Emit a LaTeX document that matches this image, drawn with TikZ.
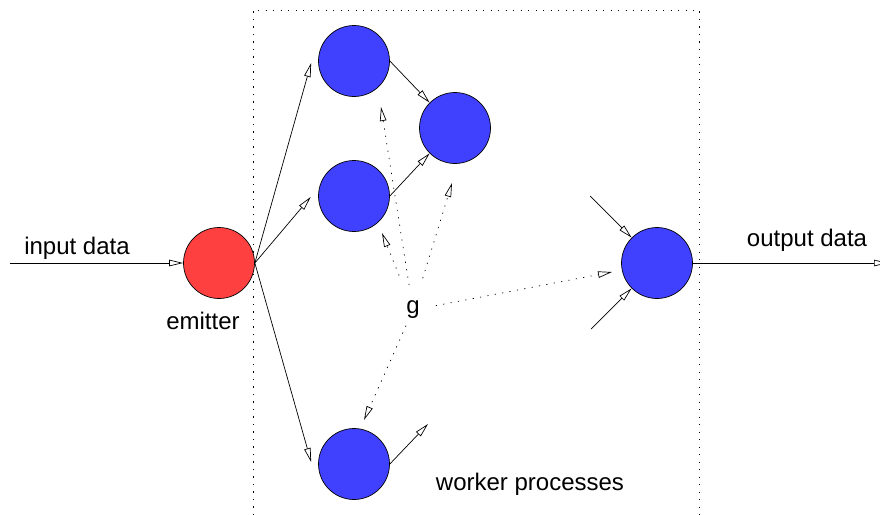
\documentclass[tikz,border=0pt]{standalone}
\usepackage{fontspec}
\setmainfont{Liberation Sans}
\usetikzlibrary{arrows.meta,calc}
\definecolor{wblue}{RGB}{64,64,255}
\definecolor{ered}{RGB}{255,64,64}
\begin{document}
\begin{tikzpicture}[x=1pt,y=-1pt,
  proc/.style={circle,draw=black,line width=0.7pt,minimum size=71pt,inner sep=0pt},
  worker/.style={proc,fill=wblue},
  link/.style={line width=0.7pt,-{Triangle[open,length=14pt,width=6.5pt]}},
  hint/.style={link,dash pattern=on 1.2pt off 6.3pt},
  frame/.style={line width=0.9pt,dash pattern=on 1.2pt off 6.3pt},
  lbl/.style={font=\fontsize{24}{28}\selectfont,anchor=base,inner sep=0pt}]
\clip (0,0) rectangle (880,514);

% farm boundary (open at the bottom)
\draw[frame] (253,530) -- (253,10) -- (699,10) -- (699,530);

% processes
\node[proc,fill=ered] (em) at (219,263) {};
\node[worker] (w1) at (354,61) {};
\node[worker] (w2) at (455,128) {};
\node[worker] (w3) at (354,196) {};
\node[worker] (w4) at (354,464) {};
\node[worker] (col) at (657,263) {};

% labels
\node[lbl] (lin) at (77,254) {input data};
\node[lbl] (lem) at (203,329) {emitter};
\node[lbl] (lout) at (807,246) {output data};
\node[lbl] (lwp) at (530,490) {worker processes};
\node[circle,inner sep=0pt,minimum size=34pt,font=\fontsize{24}{28}\selectfont] (g) at (413,310) {g};

% free ends
\coordinate (src) at (10,263);
\coordinate (snk) at (888,263);
\coordinate (wout) at (428,424);
\coordinate (in1) at (590,196);
\coordinate (in2) at (591,329);
\coordinate (t1) at (381,107);
\coordinate (t2) at (452,183);
\coordinate (t3) at (382,233);
\coordinate (t4) at (364,420);
\coordinate (t5) at (612,272);

% data flow
\draw[link] (src) -- (em);
\draw[link] (em.east) -- ($(w1.west)+(-7,2)$);
\draw[link] (em.east) -- ($(w3.west)+(-7.5,1)$);
\draw[link] (em.east) -- ($(w4.west)+(-7,-2)$);
\draw[link] (w1.east) -- (w2.north west);
\draw[link] (w3.east) -- (w2.south west);
\draw[link] (w4.east) -- (wout);
\draw[link] (in1) -- (col.north west);
\draw[link] (in2) -- (col.south west);
\draw[link] (col.east) -- (snk);

% dotted hints from g
\draw[hint,shorten <=8pt] (g) -- (t1);
\draw[hint,shorten <=16pt] (g) -- (t2);
\draw[hint,shorten <=20pt] (g) -- (t3);
\draw[hint] (g) -- (t4);
\draw[hint,shorten <=6pt] (g) -- (t5);
\end{tikzpicture}
\end{document}
